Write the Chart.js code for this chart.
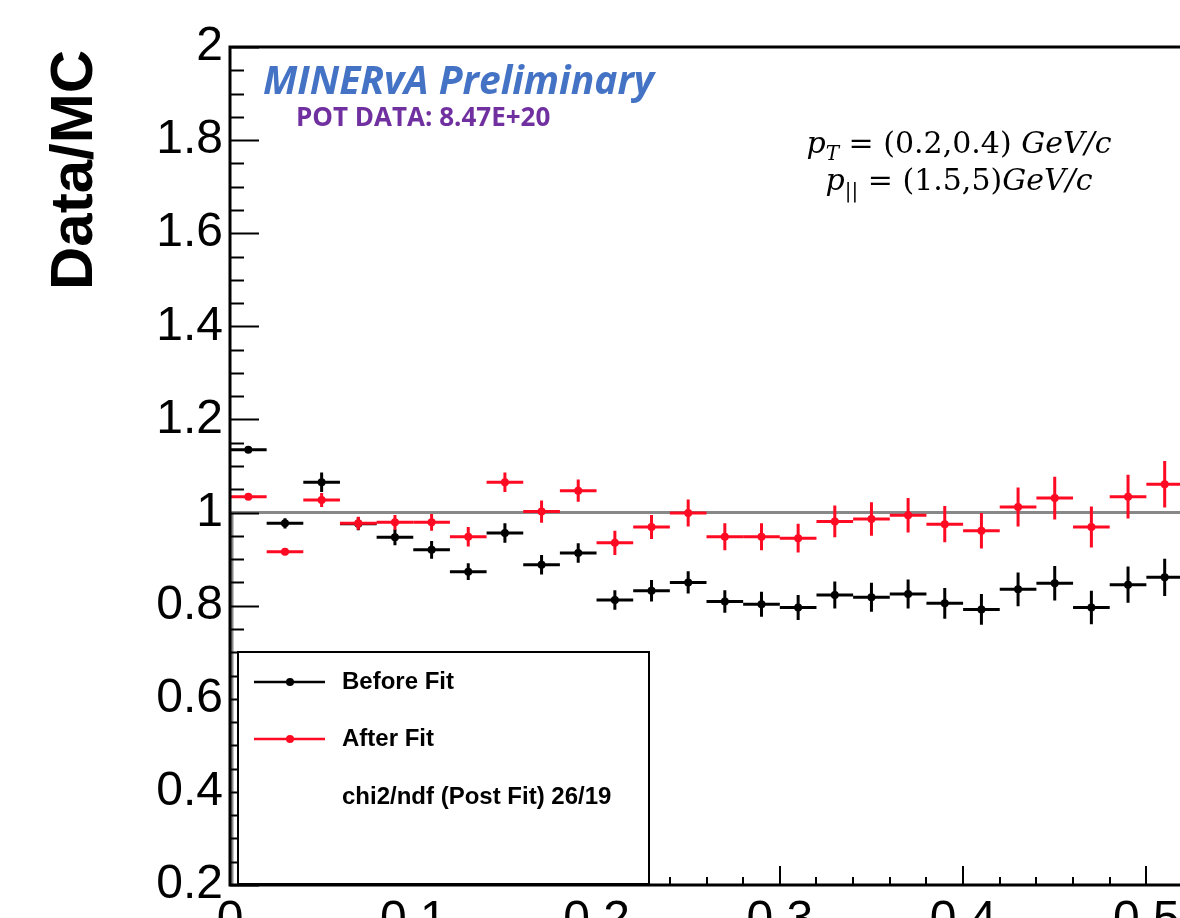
<!DOCTYPE html>
<html>
<head>
<meta charset="utf-8">
<script src="https://cdn.jsdelivr.net/npm/chart.js@4.4.0/dist/chart.umd.min.js"></script>
<style>
  html, body { margin: 0; padding: 0; background: #fff; overflow: hidden; }
  #ratioChart { position: absolute; left: 0; top: 0; }
</style>
</head>
<body>
<canvas id="ratioChart" width="1242" height="918"></canvas>
<script>
// Data/MC ratio, before and after fit
const binCenters = [0.01, 0.03, 0.05, 0.07, 0.09, 0.11, 0.13, 0.15, 0.17, 0.19, 0.21, 0.23, 0.25,
                    0.27, 0.29, 0.31, 0.33, 0.35, 0.37, 0.39, 0.41, 0.43, 0.45, 0.47, 0.49, 0.51];
const binHalfWidth = 0.01;
const beforeFit = [1.135, 0.977, 1.065, 0.976, 0.947, 0.920, 0.873, 0.956, 0.888, 0.913, 0.812, 0.832, 0.850,
                   0.809, 0.803, 0.796, 0.823, 0.818, 0.825, 0.805, 0.792, 0.835, 0.848, 0.796, 0.845, 0.861];
const beforeErr = [0.005, 0.011, 0.021, 0.014, 0.017, 0.019, 0.018, 0.021, 0.021, 0.021, 0.021, 0.023, 0.024,
                   0.024, 0.027, 0.027, 0.029, 0.031, 0.031, 0.033, 0.033, 0.036, 0.037, 0.036, 0.039, 0.040];
const afterFit = [1.034, 0.916, 1.027, 0.977, 0.979, 0.979, 0.948, 1.065, 1.002, 1.047, 0.935, 0.969, 0.999,
                  0.948, 0.948, 0.945, 0.981, 0.986, 0.994, 0.975, 0.961, 1.012, 1.031, 0.969, 1.034, 1.061];
const afterErr = [0.004, 0.006, 0.015, 0.014, 0.016, 0.018, 0.021, 0.021, 0.024, 0.024, 0.026, 0.026, 0.029,
                  0.029, 0.029, 0.031, 0.034, 0.036, 0.037, 0.039, 0.038, 0.042, 0.046, 0.044, 0.047, 0.050];
const seriesNames = ['Before Fit', 'After Fit'];
const chi2Label = 'chi2/ndf (Post Fit) 26/19';
const refValue = 1;
const xMin = 0, xMax = 0.55, yMin = 0.2, yMax = 2;

const BLACK = '#000000';
const RED = '#ff0a23';
const errs = [beforeErr, afterErr];
const vals = [beforeFit, afterFit];

const toPoints = arr => binCenters.map((x, i) => ({ x: x, y: arr[i] }));

// error bars, drawn under each dataset's markers
const errorBars = {
  id: 'errorBars',
  beforeDatasetDraw(chart, args) {
    const ctx = chart.ctx, xs = chart.scales.x, ys = chart.scales.y, a = chart.chartArea;
    const i = args.index;
    ctx.save();
    ctx.beginPath(); ctx.rect(a.left, a.top, a.right - a.left, a.bottom - a.top); ctx.clip();
    ctx.strokeStyle = chart.data.datasets[i].borderColor;
    ctx.lineWidth = 3;
    binCenters.forEach((x, k) => {
      const px = xs.getPixelForValue(x), py = ys.getPixelForValue(vals[i][k]);
      ctx.beginPath();
      ctx.moveTo(xs.getPixelForValue(x - binHalfWidth), py);
      ctx.lineTo(xs.getPixelForValue(x + binHalfWidth), py);
      ctx.moveTo(px, ys.getPixelForValue(vals[i][k] - errs[i][k]));
      ctx.lineTo(px, ys.getPixelForValue(vals[i][k] + errs[i][k]));
      ctx.stroke();
    });
    ctx.restore();
  }
};

// ROOT style frame, inner ticks, reference line, texts and legend
const rootFrame = {
  id: 'rootFrame',
  beforeDatasetsDraw(chart) {
    const ctx = chart.ctx, xs = chart.scales.x, ys = chart.scales.y, a = chart.chartArea;
    ctx.save();
    ctx.strokeStyle = '#888';
    ctx.lineWidth = 3;
    ctx.beginPath();
    ctx.moveTo(xs.getPixelForValue(xMin) + 2, a.bottom);
    ctx.lineTo(xs.getPixelForValue(xMin) + 2, ys.getPixelForValue(refValue));
    ctx.lineTo(a.right, ys.getPixelForValue(refValue));
    ctx.stroke();
    ctx.restore();
  },
  afterDatasetsDraw(chart) {
    const ctx = chart.ctx, xs = chart.scales.x, ys = chart.scales.y, a = chart.chartArea;
    ctx.save();
    ctx.strokeStyle = '#000';
    ctx.lineWidth = 2;
    // y ticks (minor every 0.05)
    for (let k = 0; k <= 36; k++) {
      const v = yMin + k * 0.05;
      const py = Math.round(ys.getPixelForValue(v)) + 0.5;
      const len = k % 4 === 0 ? 29 : 14;
      ctx.beginPath(); ctx.moveTo(a.left, py); ctx.lineTo(a.left + len, py); ctx.stroke();
    }
    // x ticks (minor every 0.02)
    for (let k = 0; k * 0.02 <= xMax; k++) {
      const v = k * 0.02;
      const px = Math.round(xs.getPixelForValue(v));
      const len = k % 5 === 0 ? 19 : 8;
      ctx.beginPath(); ctx.moveTo(px, a.bottom); ctx.lineTo(px, a.bottom - len); ctx.stroke();
    }
    // frame
    ctx.lineWidth = 3;
    ctx.beginPath();
    ctx.moveTo(a.right, a.top); ctx.lineTo(a.left, a.top); ctx.lineTo(a.left, a.bottom); ctx.lineTo(a.right, a.bottom);
    ctx.stroke();
    ctx.restore();
  },
  afterDraw(chart) {
    const ctx = chart.ctx;
    ctx.save();
    // y title
    ctx.save();
    ctx.translate(75, 170);
    ctx.rotate(-Math.PI / 2);
    ctx.fillStyle = '#000';
    ctx.font = 'bold 60px "Liberation Sans", Arial, sans-serif';
    ctx.textAlign = 'center'; ctx.textBaseline = 'middle';
    ctx.fillText('Data/MC', 0, 0);
    ctx.restore();

    // MINERvA label
    ctx.textAlign = 'left'; ctx.textBaseline = 'alphabetic';
    ctx.fillStyle = '#4472c4';
    ctx.font = 'italic bold 39px "Open Sans", sans-serif';
    ctx.fillText('MINERvA Preliminary', 263, 94, 397);
    ctx.fillStyle = '#7030a0';
    ctx.font = 'bold 26px "Open Sans", sans-serif';
    ctx.fillText('POT DATA: 8.47E+20', 296, 126, 261);

    // kinematic range text
    const serif = '"DejaVu Serif", serif';
    const drawRich = (parts, cx, base) => {
      let w = 0;
      parts.forEach(p => { ctx.font = p.f; w += ctx.measureText(p.t).width; });
      let x = cx - w / 2;
      parts.forEach(p => {
        ctx.font = p.f;
        ctx.fillText(p.t, x, base + (p.dy || 0));
        x += ctx.measureText(p.t).width;
      });
    };
    ctx.fillStyle = '#000';
    const it = 'italic 30px ' + serif, rm = '30px ' + serif, sub = 'italic 20px ' + serif;
    drawRich([{ t: 'p', f: it }, { t: 'T', f: sub, dy: 7 }, { t: ' = (0.2,0.4) ', f: rm }, { t: 'GeV/c', f: it }], 959, 153);
    drawRich([{ t: 'p', f: it }, { t: '||', f: '20px ' + serif, dy: 7 }, { t: ' = (1.5,5)', f: rm }, { t: 'GeV/c', f: it }], 959, 190);

    // legend box
    ctx.fillStyle = '#fff';
    ctx.fillRect(238, 652, 411, 232);
    ctx.strokeStyle = '#000'; ctx.lineWidth = 2;
    ctx.strokeRect(238, 652, 411, 232);
    const colors = [BLACK, RED];
    const rowsY = [682, 739];
    ctx.font = 'bold 24px "Liberation Sans", Arial, sans-serif';
    ctx.textBaseline = 'middle';
    seriesNames.forEach((name, i) => {
      ctx.strokeStyle = colors[i]; ctx.fillStyle = colors[i];
      ctx.lineWidth = 2.5;
      ctx.beginPath(); ctx.moveTo(254, rowsY[i]); ctx.lineTo(325, rowsY[i]); ctx.stroke();
      ctx.beginPath(); ctx.arc(290, rowsY[i], 4, 0, Math.PI * 2); ctx.fill();
      ctx.fillStyle = '#000';
      ctx.fillText(name, 342, rowsY[i]);
    });
    ctx.fillText(chi2Label, 342, 797);
    ctx.restore();
  }
};

new Chart(document.getElementById('ratioChart'), {
  type: 'scatter',
  data: {
    datasets: [
      { label: seriesNames[0], data: toPoints(beforeFit), borderColor: BLACK, backgroundColor: BLACK,
        pointRadius: 4, pointHoverRadius: 4, pointBorderWidth: 0, order: 2 },
      { label: seriesNames[1], data: toPoints(afterFit), borderColor: RED, backgroundColor: RED,
        pointRadius: 4, pointHoverRadius: 4, pointBorderWidth: 0, order: 1 }
    ]
  },
  options: {
    responsive: false,
    animation: false,
    layout: { padding: { top: 47, left: 0, right: 0, bottom: 0 } },
    plugins: { legend: { display: false }, tooltip: { enabled: false } },
    scales: {
      x: {
        type: 'linear', min: xMin, max: xMax,
        grid: { display: false, drawTicks: false }, border: { display: false },
        ticks: { stepSize: 0.1, padding: 7, color: '#000', maxRotation: 0, autoSkip: false, includeBounds: false,
                 font: { family: '"Liberation Sans", Arial, sans-serif', size: 48 },
                 callback: v => String(+v.toFixed(1)) },
        afterFit: s => { s.height = 33; s.paddingLeft = 0; s.paddingRight = 0; }
      },
      y: {
        min: yMin, max: yMax,
        grid: { display: false, drawTicks: false }, border: { display: false },
        ticks: { stepSize: 0.2, padding: 7, color: '#000',
                 font: { family: '"Liberation Sans", Arial, sans-serif', size: 48 },
                 callback: v => String(+v.toFixed(1)) },
        afterFit: s => { s.width = 230; s.paddingTop = 0; s.paddingBottom = 0; }
      }
    }
  },
  plugins: [errorBars, rootFrame]
});
</script>
</body>
</html>
